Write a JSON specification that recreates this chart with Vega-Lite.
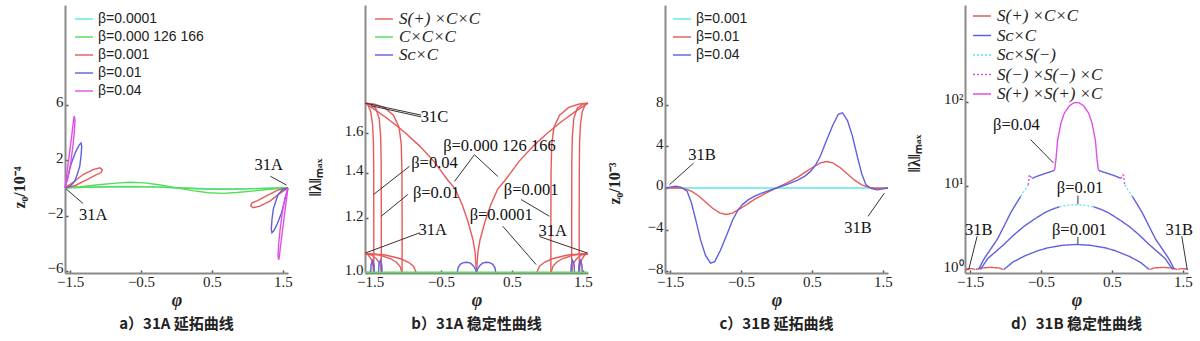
{
"$schema": "https://vega.github.io/schema/vega-lite/v6.json",
"background": "white",
"padding": {"left": 11, "top": 5, "right": 0, "bottom": 0},
"spacing": 77,
"bounds": "flush",
"resolve": {"scale": {"color": "independent", "strokeDash": "independent"}, "legend": {"color": "independent", "strokeDash": "independent"}},
"config": {
  "view": {"stroke": null},
  "axis": {"grid": false, "domainColor": "#8a8a8a", "domainWidth": 2, "ticks": true, "tickSize": -3, "tickColor": "#555", "tickWidth": 1.5,
    "labelFont": "Liberation Serif, Times New Roman, serif", "labelFontSize": 15, "labelColor": "#222", "labelOverlap": false, "labelFlush": false,
    "titleFont": "Liberation Serif, Times New Roman, serif", "titleColor": "#222", "titleFontWeight": "bold"},
  "axisX": {"labelPadding": 4, "titlePadding": 2, "titleFontSize": 18, "titleFontStyle": "italic"},
  "axisY": {"labelPadding": 5, "labelOffset": -3, "titleFontSize": 16, "titleBaseline": "middle"},
  "title": {"orient": "bottom", "anchor": "middle", "font": "Noto Sans CJK SC", "fontSize": 15, "fontWeight": "bold", "color": "#222", "offset": 8},
  "text": {"font": "Liberation Serif, Times New Roman, serif", "fontSize": 16.5, "color": "#111", "align": "center", "baseline": "middle"},
  "rule": {"color": "#333", "strokeWidth": 1},
  "line": {"strokeWidth": 1.4}
},
"datasets": {
"a": [
{"p":-1.5708,"v":0,"s":"β=0.0001","g":"c"},{"p":-1.2,"v":0.05,"s":"β=0.0001","g":"c"},{"p":-0.8,"v":0.1,"s":"β=0.0001","g":"c"},{"p":-0.4,"v":0.07,"s":"β=0.0001","g":"c"},{"p":0,"v":0,"s":"β=0.0001","g":"c"},{"p":0.4,"v":-0.07,"s":"β=0.0001","g":"c"},{"p":0.8,"v":-0.1,"s":"β=0.0001","g":"c"},{"p":1.2,"v":-0.05,"s":"β=0.0001","g":"c"},{"p":1.5708,"v":0,"s":"β=0.0001","g":"c"},
{"p":-1.5708,"v":0,"s":"β=0.000 126 166","g":"g1"},{"p":-1.35,"v":0.08,"s":"β=0.000 126 166","g":"g1"},{"p":-1.1,"v":0.22,"s":"β=0.000 126 166","g":"g1"},{"p":-0.85,"v":0.34,"s":"β=0.000 126 166","g":"g1"},{"p":-0.65,"v":0.4,"s":"β=0.000 126 166","g":"g1"},{"p":-0.45,"v":0.36,"s":"β=0.000 126 166","g":"g1"},{"p":-0.25,"v":0.22,"s":"β=0.000 126 166","g":"g1"},{"p":0,"v":0,"s":"β=0.000 126 166","g":"g1"},{"p":0.25,"v":-0.22,"s":"β=0.000 126 166","g":"g1"},{"p":0.45,"v":-0.36,"s":"β=0.000 126 166","g":"g1"},{"p":0.65,"v":-0.4,"s":"β=0.000 126 166","g":"g1"},{"p":0.85,"v":-0.34,"s":"β=0.000 126 166","g":"g1"},{"p":1.1,"v":-0.22,"s":"β=0.000 126 166","g":"g1"},{"p":1.35,"v":-0.08,"s":"β=0.000 126 166","g":"g1"},{"p":1.5708,"v":0,"s":"β=0.000 126 166","g":"g1"},
{"p":-1.5708,"v":0,"s":"β=0.000 126 166","g":"g2"},{"p":-1.1,"v":0.06,"s":"β=0.000 126 166","g":"g2"},{"p":-0.6,"v":0.1,"s":"β=0.000 126 166","g":"g2"},{"p":-0.3,"v":0.07,"s":"β=0.000 126 166","g":"g2"},{"p":0,"v":0,"s":"β=0.000 126 166","g":"g2"},{"p":0.3,"v":-0.07,"s":"β=0.000 126 166","g":"g2"},{"p":0.6,"v":-0.1,"s":"β=0.000 126 166","g":"g2"},{"p":1.1,"v":-0.06,"s":"β=0.000 126 166","g":"g2"},{"p":1.5708,"v":0,"s":"β=0.000 126 166","g":"g2"},
{"p":-1.5708,"v":0,"s":"β=0.001","g":"r1"},{"p":-1.45,"v":0.42,"s":"β=0.001","g":"r1"},{"p":-1.316,"v":0.96,"s":"β=0.001","g":"r1"},{"p":-1.175,"v":1.32,"s":"β=0.001","g":"r1"},{"p":-1.08,"v":1.44,"s":"β=0.001","g":"r1"},{"p":-1.045,"v":1.3,"s":"β=0.001","g":"r1"},{"p":-1.06,"v":1.1,"s":"β=0.001","g":"r1"},{"p":-1.142,"v":0.92,"s":"β=0.001","g":"r1"},{"p":-1.26,"v":0.6,"s":"β=0.001","g":"r1"},{"p":-1.425,"v":0.17,"s":"β=0.001","g":"r1"},{"p":-1.5708,"v":0,"s":"β=0.001","g":"r1"},
{"p":1.5708,"v":0,"s":"β=0.001","g":"r2"},{"p":1.45,"v":-0.42,"s":"β=0.001","g":"r2"},{"p":1.316,"v":-0.96,"s":"β=0.001","g":"r2"},{"p":1.175,"v":-1.32,"s":"β=0.001","g":"r2"},{"p":1.08,"v":-1.44,"s":"β=0.001","g":"r2"},{"p":1.045,"v":-1.3,"s":"β=0.001","g":"r2"},{"p":1.06,"v":-1.1,"s":"β=0.001","g":"r2"},{"p":1.142,"v":-0.92,"s":"β=0.001","g":"r2"},{"p":1.26,"v":-0.6,"s":"β=0.001","g":"r2"},{"p":1.425,"v":-0.17,"s":"β=0.001","g":"r2"},{"p":1.5708,"v":0,"s":"β=0.001","g":"r2"},
{"p":-1.5708,"v":0,"s":"β=0.01","g":"b1"},{"p":-1.53,"v":0.8,"s":"β=0.01","g":"b1"},{"p":-1.48,"v":1.8,"s":"β=0.01","g":"b1"},{"p":-1.42,"v":2.6,"s":"β=0.01","g":"b1"},{"p":-1.37,"v":3.1,"s":"β=0.01","g":"b1"},{"p":-1.345,"v":3.24,"s":"β=0.01","g":"b1"},{"p":-1.335,"v":3.0,"s":"β=0.01","g":"b1"},{"p":-1.345,"v":2.3,"s":"β=0.01","g":"b1"},{"p":-1.363,"v":1.55,"s":"β=0.01","g":"b1"},{"p":-1.4,"v":0.95,"s":"β=0.01","g":"b1"},{"p":-1.434,"v":0.47,"s":"β=0.01","g":"b1"},{"p":-1.5,"v":0.12,"s":"β=0.01","g":"b1"},{"p":-1.5708,"v":0,"s":"β=0.01","g":"b1"},
{"p":1.5708,"v":0,"s":"β=0.01","g":"b2"},{"p":1.53,"v":-0.8,"s":"β=0.01","g":"b2"},{"p":1.48,"v":-1.8,"s":"β=0.01","g":"b2"},{"p":1.42,"v":-2.6,"s":"β=0.01","g":"b2"},{"p":1.37,"v":-3.1,"s":"β=0.01","g":"b2"},{"p":1.345,"v":-3.24,"s":"β=0.01","g":"b2"},{"p":1.335,"v":-3.0,"s":"β=0.01","g":"b2"},{"p":1.345,"v":-2.3,"s":"β=0.01","g":"b2"},{"p":1.363,"v":-1.55,"s":"β=0.01","g":"b2"},{"p":1.4,"v":-0.95,"s":"β=0.01","g":"b2"},{"p":1.434,"v":-0.47,"s":"β=0.01","g":"b2"},{"p":1.5,"v":-0.12,"s":"β=0.01","g":"b2"},{"p":1.5708,"v":0,"s":"β=0.01","g":"b2"},
{"p":-1.5708,"v":0,"s":"β=0.04","g":"m1"},{"p":-1.54,"v":1.2,"s":"β=0.04","g":"m1"},{"p":-1.505,"v":2.6,"s":"β=0.04","g":"m1"},{"p":-1.47,"v":4.0,"s":"β=0.04","g":"m1"},{"p":-1.45,"v":4.9,"s":"β=0.04","g":"m1"},{"p":-1.44,"v":5.2,"s":"β=0.04","g":"m1"},{"p":-1.43,"v":4.9,"s":"β=0.04","g":"m1"},{"p":-1.44,"v":4.0,"s":"β=0.04","g":"m1"},{"p":-1.46,"v":3.0,"s":"β=0.04","g":"m1"},{"p":-1.49,"v":1.8,"s":"β=0.04","g":"m1"},{"p":-1.53,"v":0.7,"s":"β=0.04","g":"m1"},{"p":-1.5708,"v":0,"s":"β=0.04","g":"m1"},
{"p":1.5708,"v":0,"s":"β=0.04","g":"m2"},{"p":1.54,"v":-1.2,"s":"β=0.04","g":"m2"},{"p":1.505,"v":-2.6,"s":"β=0.04","g":"m2"},{"p":1.47,"v":-4.0,"s":"β=0.04","g":"m2"},{"p":1.45,"v":-4.9,"s":"β=0.04","g":"m2"},{"p":1.44,"v":-5.2,"s":"β=0.04","g":"m2"},{"p":1.43,"v":-4.9,"s":"β=0.04","g":"m2"},{"p":1.44,"v":-4.0,"s":"β=0.04","g":"m2"},{"p":1.46,"v":-3.0,"s":"β=0.04","g":"m2"},{"p":1.49,"v":-1.8,"s":"β=0.04","g":"m2"},{"p":1.53,"v":-0.7,"s":"β=0.04","g":"m2"},{"p":1.5708,"v":0,"s":"β=0.04","g":"m2"}
],
"ar": [{"p":-1.555,"v":-0.08,"p2":-1.316,"v2":-1.13},{"p":1.324,"v":0.83,"p2":1.55,"v2":0.2}],
"at": [{"p":-1.175,"v":-1.99,"t":"31A"},{"p":1.3,"v":1.63,"t":"31A"}],
"b": [
{"p":-1.5708,"v":1.77,"s":"S(+) ×C×C","g":"v1"},{"p":-1.4,"v":1.723,"s":"S(+) ×C×C","g":"v1"},{"p":-1.2,"v":1.664,"s":"S(+) ×C×C","g":"v1"},{"p":-1.0,"v":1.6,"s":"S(+) ×C×C","g":"v1"},{"p":-0.8,"v":1.531,"s":"S(+) ×C×C","g":"v1"},{"p":-0.6,"v":1.454,"s":"S(+) ×C×C","g":"v1"},{"p":-0.4,"v":1.363,"s":"S(+) ×C×C","g":"v1"},{"p":-0.3,"v":1.325,"s":"S(+) ×C×C","g":"v1"},{"p":-0.2,"v":1.255,"s":"S(+) ×C×C","g":"v1"},{"p":-0.12,"v":1.187,"s":"S(+) ×C×C","g":"v1"},{"p":-0.05,"v":1.116,"s":"S(+) ×C×C","g":"v1"},{"p":-0.02,"v":1.07,"s":"S(+) ×C×C","g":"v1"},{"p":0,"v":1.0,"s":"S(+) ×C×C","g":"v1"},
{"p":1.5708,"v":1.77,"s":"S(+) ×C×C","g":"v2"},{"p":1.4,"v":1.723,"s":"S(+) ×C×C","g":"v2"},{"p":1.2,"v":1.664,"s":"S(+) ×C×C","g":"v2"},{"p":1.0,"v":1.6,"s":"S(+) ×C×C","g":"v2"},{"p":0.8,"v":1.531,"s":"S(+) ×C×C","g":"v2"},{"p":0.6,"v":1.454,"s":"S(+) ×C×C","g":"v2"},{"p":0.4,"v":1.363,"s":"S(+) ×C×C","g":"v2"},{"p":0.3,"v":1.325,"s":"S(+) ×C×C","g":"v2"},{"p":0.2,"v":1.255,"s":"S(+) ×C×C","g":"v2"},{"p":0.12,"v":1.187,"s":"S(+) ×C×C","g":"v2"},{"p":0.05,"v":1.116,"s":"S(+) ×C×C","g":"v2"},{"p":0.02,"v":1.07,"s":"S(+) ×C×C","g":"v2"},{"p":0,"v":1.0,"s":"S(+) ×C×C","g":"v2"},
{"p":-1.5708,"v":1.77,"s":"S(+) ×C×C","g":"a1"},{"p":-1.53,"v":1.76,"s":"S(+) ×C×C","g":"a1"},{"p":-1.49,"v":1.72,"s":"S(+) ×C×C","g":"a1"},{"p":-1.465,"v":1.65,"s":"S(+) ×C×C","g":"a1"},{"p":-1.452,"v":1.55,"s":"S(+) ×C×C","g":"a1"},{"p":-1.448,"v":1.4,"s":"S(+) ×C×C","g":"a1"},{"p":-1.447,"v":1.2,"s":"S(+) ×C×C","g":"a1"},{"p":-1.447,"v":1.0,"s":"S(+) ×C×C","g":"a1"},
{"p":-1.5708,"v":1.77,"s":"S(+) ×C×C","g":"a2"},{"p":-1.5,"v":1.765,"s":"S(+) ×C×C","g":"a2"},{"p":-1.42,"v":1.74,"s":"S(+) ×C×C","g":"a2"},{"p":-1.37,"v":1.68,"s":"S(+) ×C×C","g":"a2"},{"p":-1.35,"v":1.58,"s":"S(+) ×C×C","g":"a2"},{"p":-1.343,"v":1.45,"s":"S(+) ×C×C","g":"a2"},{"p":-1.341,"v":1.2,"s":"S(+) ×C×C","g":"a2"},{"p":-1.341,"v":1.0,"s":"S(+) ×C×C","g":"a2"},
{"p":-1.5708,"v":1.77,"s":"S(+) ×C×C","g":"a3"},{"p":-1.45,"v":1.765,"s":"S(+) ×C×C","g":"a3"},{"p":-1.3,"v":1.745,"s":"S(+) ×C×C","g":"a3"},{"p":-1.17,"v":1.7,"s":"S(+) ×C×C","g":"a3"},{"p":-1.09,"v":1.63,"s":"S(+) ×C×C","g":"a3"},{"p":-1.06,"v":1.54,"s":"S(+) ×C×C","g":"a3"},{"p":-1.05,"v":1.4,"s":"S(+) ×C×C","g":"a3"},{"p":-1.048,"v":1.2,"s":"S(+) ×C×C","g":"a3"},{"p":-1.048,"v":1.0,"s":"S(+) ×C×C","g":"a3"},
{"p":1.5708,"v":1.77,"s":"S(+) ×C×C","g":"a4"},{"p":1.53,"v":1.76,"s":"S(+) ×C×C","g":"a4"},{"p":1.49,"v":1.72,"s":"S(+) ×C×C","g":"a4"},{"p":1.465,"v":1.65,"s":"S(+) ×C×C","g":"a4"},{"p":1.452,"v":1.55,"s":"S(+) ×C×C","g":"a4"},{"p":1.448,"v":1.4,"s":"S(+) ×C×C","g":"a4"},{"p":1.447,"v":1.2,"s":"S(+) ×C×C","g":"a4"},{"p":1.447,"v":1.0,"s":"S(+) ×C×C","g":"a4"},
{"p":1.5708,"v":1.77,"s":"S(+) ×C×C","g":"a5"},{"p":1.5,"v":1.765,"s":"S(+) ×C×C","g":"a5"},{"p":1.42,"v":1.74,"s":"S(+) ×C×C","g":"a5"},{"p":1.37,"v":1.68,"s":"S(+) ×C×C","g":"a5"},{"p":1.35,"v":1.58,"s":"S(+) ×C×C","g":"a5"},{"p":1.343,"v":1.45,"s":"S(+) ×C×C","g":"a5"},{"p":1.341,"v":1.2,"s":"S(+) ×C×C","g":"a5"},{"p":1.341,"v":1.0,"s":"S(+) ×C×C","g":"a5"},
{"p":1.5708,"v":1.77,"s":"S(+) ×C×C","g":"a6"},{"p":1.45,"v":1.765,"s":"S(+) ×C×C","g":"a6"},{"p":1.3,"v":1.745,"s":"S(+) ×C×C","g":"a6"},{"p":1.17,"v":1.7,"s":"S(+) ×C×C","g":"a6"},{"p":1.09,"v":1.63,"s":"S(+) ×C×C","g":"a6"},{"p":1.06,"v":1.54,"s":"S(+) ×C×C","g":"a6"},{"p":1.05,"v":1.4,"s":"S(+) ×C×C","g":"a6"},{"p":1.048,"v":1.2,"s":"S(+) ×C×C","g":"a6"},{"p":1.048,"v":1.0,"s":"S(+) ×C×C","g":"a6"},
{"p":-1.5708,"v":1.065,"s":"S(+) ×C×C","g":"b1"},{"p":-1.283,"v":1.0596,"s":"S(+) ×C×C","g":"b1"},{"p":-1.067,"v":1.0464,"s":"S(+) ×C×C","g":"b1"},{"p":-0.959,"v":1.0342,"s":"S(+) ×C×C","g":"b1"},{"p":-0.887,"v":1.0203,"s":"S(+) ×C×C","g":"b1"},{"p":-0.851,"v":1.0,"s":"S(+) ×C×C","g":"b1"},
{"p":-1.5708,"v":1.065,"s":"S(+) ×C×C","g":"b2"},{"p":-1.363,"v":1.0596,"s":"S(+) ×C×C","g":"b2"},{"p":-1.207,"v":1.0464,"s":"S(+) ×C×C","g":"b2"},{"p":-1.129,"v":1.0342,"s":"S(+) ×C×C","g":"b2"},{"p":-1.077,"v":1.0203,"s":"S(+) ×C×C","g":"b2"},{"p":-1.051,"v":1.0,"s":"S(+) ×C×C","g":"b2"},
{"p":-1.5708,"v":1.065,"s":"S(+) ×C×C","g":"b3"},{"p":-1.479,"v":1.0596,"s":"S(+) ×C×C","g":"b3"},{"p":-1.41,"v":1.0464,"s":"S(+) ×C×C","g":"b3"},{"p":-1.375,"v":1.0342,"s":"S(+) ×C×C","g":"b3"},{"p":-1.352,"v":1.0203,"s":"S(+) ×C×C","g":"b3"},{"p":-1.341,"v":1.0,"s":"S(+) ×C×C","g":"b3"},
{"p":-1.5708,"v":1.065,"s":"S(+) ×C×C","g":"b4"},{"p":-1.523,"v":1.0596,"s":"S(+) ×C×C","g":"b4"},{"p":-1.487,"v":1.0464,"s":"S(+) ×C×C","g":"b4"},{"p":-1.469,"v":1.0342,"s":"S(+) ×C×C","g":"b4"},{"p":-1.457,"v":1.0203,"s":"S(+) ×C×C","g":"b4"},{"p":-1.451,"v":1.0,"s":"S(+) ×C×C","g":"b4"},
{"p":1.5708,"v":1.065,"s":"S(+) ×C×C","g":"b5"},{"p":1.283,"v":1.0596,"s":"S(+) ×C×C","g":"b5"},{"p":1.067,"v":1.0464,"s":"S(+) ×C×C","g":"b5"},{"p":0.959,"v":1.0342,"s":"S(+) ×C×C","g":"b5"},{"p":0.887,"v":1.0203,"s":"S(+) ×C×C","g":"b5"},{"p":0.851,"v":1.0,"s":"S(+) ×C×C","g":"b5"},
{"p":1.5708,"v":1.065,"s":"S(+) ×C×C","g":"b6"},{"p":1.363,"v":1.0596,"s":"S(+) ×C×C","g":"b6"},{"p":1.207,"v":1.0464,"s":"S(+) ×C×C","g":"b6"},{"p":1.129,"v":1.0342,"s":"S(+) ×C×C","g":"b6"},{"p":1.077,"v":1.0203,"s":"S(+) ×C×C","g":"b6"},{"p":1.051,"v":1.0,"s":"S(+) ×C×C","g":"b6"},
{"p":1.5708,"v":1.065,"s":"S(+) ×C×C","g":"b7"},{"p":1.479,"v":1.0596,"s":"S(+) ×C×C","g":"b7"},{"p":1.41,"v":1.0464,"s":"S(+) ×C×C","g":"b7"},{"p":1.375,"v":1.0342,"s":"S(+) ×C×C","g":"b7"},{"p":1.352,"v":1.0203,"s":"S(+) ×C×C","g":"b7"},{"p":1.341,"v":1.0,"s":"S(+) ×C×C","g":"b7"},
{"p":1.5708,"v":1.065,"s":"S(+) ×C×C","g":"b8"},{"p":1.523,"v":1.0596,"s":"S(+) ×C×C","g":"b8"},{"p":1.487,"v":1.0464,"s":"S(+) ×C×C","g":"b8"},{"p":1.469,"v":1.0342,"s":"S(+) ×C×C","g":"b8"},{"p":1.457,"v":1.0203,"s":"S(+) ×C×C","g":"b8"},{"p":1.451,"v":1.0,"s":"S(+) ×C×C","g":"b8"},
{"p":-0.27,"v":1.0,"s":"Sᴄ×C","g":"c1"},{"p":-0.26,"v":1.015,"s":"Sᴄ×C","g":"c1"},{"p":-0.23,"v":1.027,"s":"Sᴄ×C","g":"c1"},{"p":-0.185,"v":1.033,"s":"Sᴄ×C","g":"c1"},{"p":-0.135,"v":1.034,"s":"Sᴄ×C","g":"c1"},{"p":-0.085,"v":1.031,"s":"Sᴄ×C","g":"c1"},{"p":-0.045,"v":1.022,"s":"Sᴄ×C","g":"c1"},{"p":-0.015,"v":1.01,"s":"Sᴄ×C","g":"c1"},{"p":0,"v":1.0,"s":"Sᴄ×C","g":"c1"},
{"p":0.27,"v":1.0,"s":"Sᴄ×C","g":"c2"},{"p":0.26,"v":1.015,"s":"Sᴄ×C","g":"c2"},{"p":0.23,"v":1.027,"s":"Sᴄ×C","g":"c2"},{"p":0.185,"v":1.033,"s":"Sᴄ×C","g":"c2"},{"p":0.135,"v":1.034,"s":"Sᴄ×C","g":"c2"},{"p":0.085,"v":1.031,"s":"Sᴄ×C","g":"c2"},{"p":0.045,"v":1.022,"s":"Sᴄ×C","g":"c2"},{"p":0.015,"v":1.01,"s":"Sᴄ×C","g":"c2"},{"p":0,"v":1.0,"s":"Sᴄ×C","g":"c2"},
{"p":-1.49,"v":1.0,"s":"Sᴄ×C","g":"c3"},{"p":-1.485,"v":1.025,"s":"Sᴄ×C","g":"c3"},{"p":-1.465,"v":1.04,"s":"Sᴄ×C","g":"c3"},{"p":-1.445,"v":1.025,"s":"Sᴄ×C","g":"c3"},{"p":-1.44,"v":1.0,"s":"Sᴄ×C","g":"c3"},
{"p":-1.38,"v":1.0,"s":"Sᴄ×C","g":"c4"},{"p":-1.375,"v":1.025,"s":"Sᴄ×C","g":"c4"},{"p":-1.355,"v":1.04,"s":"Sᴄ×C","g":"c4"},{"p":-1.335,"v":1.025,"s":"Sᴄ×C","g":"c4"},{"p":-1.33,"v":1.0,"s":"Sᴄ×C","g":"c4"},
{"p":1.49,"v":1.0,"s":"Sᴄ×C","g":"c5"},{"p":1.485,"v":1.025,"s":"Sᴄ×C","g":"c5"},{"p":1.465,"v":1.04,"s":"Sᴄ×C","g":"c5"},{"p":1.445,"v":1.025,"s":"Sᴄ×C","g":"c5"},{"p":1.44,"v":1.0,"s":"Sᴄ×C","g":"c5"},
{"p":1.38,"v":1.0,"s":"Sᴄ×C","g":"c6"},{"p":1.375,"v":1.025,"s":"Sᴄ×C","g":"c6"},{"p":1.355,"v":1.04,"s":"Sᴄ×C","g":"c6"},{"p":1.335,"v":1.025,"s":"Sᴄ×C","g":"c6"},{"p":1.33,"v":1.0,"s":"Sᴄ×C","g":"c6"},
{"p":-1.5708,"v":1.0,"s":"C×C×C","g":"gr"},{"p":1.5708,"v":1.0,"s":"C×C×C","g":"gr"}
],
"br": [
{"p":-0.78,"v":1.70,"p2":-1.565,"v2":1.77},{"p":-0.78,"v":1.69,"p2":-1.49,"v2":1.755},
{"p":-0.029,"v":1.487,"p2":-0.31,"v2":1.359},{"p":-0.029,"v":1.487,"p2":0.3,"v2":1.382},
{"p":-0.944,"v":1.43,"p2":-1.451,"v2":1.3},{"p":-0.968,"v":1.3,"p2":-1.343,"v2":1.208},
{"p":0.629,"v":1.278,"p2":1.028,"v2":1.208},{"p":0.37,"v":1.168,"p2":0.84,"v2":1.026},
{"p":-0.803,"v":1.142,"p2":-1.564,"v2":1.067},{"p":0.887,"v":1.128,"p2":1.56,"v2":1.067}
],
"bt": [
{"p":-0.592,"v":1.692,"t":"31C"},{"p":0.323,"v":1.529,"t":"β=0.000 126 166"},{"p":-0.592,"v":1.446,"t":"β=0.04"},{"p":-0.568,"v":1.307,"t":"β=0.01"},{"p":0.77,"v":1.322,"t":"β=0.001"},{"p":0.348,"v":1.215,"t":"β=0.0001"},{"p":-0.616,"v":1.155,"t":"31A"},{"p":1.074,"v":1.148,"t":"31A"}
],
"c": [
{"p":-1.5708,"v":0,"s":"β=0.001","g":"c"},{"p":0,"v":0,"s":"β=0.001","g":"c"},{"p":1.5708,"v":0,"s":"β=0.001","g":"c"},
{"p":-1.5708,"v":0,"s":"β=0.01","g":"r"},{"p":-1.4,"v":0.02,"s":"β=0.01","g":"r"},{"p":-1.3,"v":-0.06,"s":"β=0.01","g":"r"},{"p":-1.2,"v":-0.3,"s":"β=0.01","g":"r"},{"p":-1.1,"v":-0.75,"s":"β=0.01","g":"r"},{"p":-1.0,"v":-1.35,"s":"β=0.01","g":"r"},{"p":-0.9,"v":-1.95,"s":"β=0.01","g":"r"},{"p":-0.8,"v":-2.4,"s":"β=0.01","g":"r"},{"p":-0.71,"v":-2.55,"s":"β=0.01","g":"r"},{"p":-0.62,"v":-2.42,"s":"β=0.01","g":"r"},{"p":-0.5,"v":-1.95,"s":"β=0.01","g":"r"},{"p":-0.4,"v":-1.5,"s":"β=0.01","g":"r"},{"p":-0.3,"v":-1.05,"s":"β=0.01","g":"r"},{"p":-0.15,"v":-0.5,"s":"β=0.01","g":"r"},{"p":0,"v":0,"s":"β=0.01","g":"r"},{"p":0.15,"v":0.5,"s":"β=0.01","g":"r"},{"p":0.3,"v":1.05,"s":"β=0.01","g":"r"},{"p":0.4,"v":1.5,"s":"β=0.01","g":"r"},{"p":0.5,"v":1.95,"s":"β=0.01","g":"r"},{"p":0.62,"v":2.42,"s":"β=0.01","g":"r"},{"p":0.71,"v":2.55,"s":"β=0.01","g":"r"},{"p":0.8,"v":2.4,"s":"β=0.01","g":"r"},{"p":0.9,"v":1.95,"s":"β=0.01","g":"r"},{"p":1.0,"v":1.35,"s":"β=0.01","g":"r"},{"p":1.1,"v":0.75,"s":"β=0.01","g":"r"},{"p":1.2,"v":0.3,"s":"β=0.01","g":"r"},{"p":1.3,"v":0.06,"s":"β=0.01","g":"r"},{"p":1.4,"v":-0.02,"s":"β=0.01","g":"r"},{"p":1.5708,"v":0,"s":"β=0.01","g":"r"},
{"p":-1.5708,"v":0,"s":"β=0.04","g":"b"},{"p":-1.5,"v":0.08,"s":"β=0.04","g":"b"},{"p":-1.42,"v":0.18,"s":"β=0.04","g":"b"},{"p":-1.34,"v":0.05,"s":"β=0.04","g":"b"},{"p":-1.26,"v":-0.3,"s":"β=0.04","g":"b"},{"p":-1.2,"v":-1.4,"s":"β=0.04","g":"b"},{"p":-1.14,"v":-3.0,"s":"β=0.04","g":"b"},{"p":-1.07,"v":-5.0,"s":"β=0.04","g":"b"},{"p":-1.0,"v":-6.5,"s":"β=0.04","g":"b"},{"p":-0.93,"v":-7.25,"s":"β=0.04","g":"b"},{"p":-0.87,"v":-7.1,"s":"β=0.04","g":"b"},{"p":-0.79,"v":-6.0,"s":"β=0.04","g":"b"},{"p":-0.7,"v":-4.5,"s":"β=0.04","g":"b"},{"p":-0.62,"v":-3.1,"s":"β=0.04","g":"b"},{"p":-0.55,"v":-2.2,"s":"β=0.04","g":"b"},{"p":-0.48,"v":-1.6,"s":"β=0.04","g":"b"},{"p":-0.4,"v":-1.15,"s":"β=0.04","g":"b"},{"p":-0.3,"v":-0.75,"s":"β=0.04","g":"b"},{"p":-0.15,"v":-0.35,"s":"β=0.04","g":"b"},{"p":0,"v":0,"s":"β=0.04","g":"b"},{"p":0.15,"v":0.35,"s":"β=0.04","g":"b"},{"p":0.3,"v":0.75,"s":"β=0.04","g":"b"},{"p":0.4,"v":1.15,"s":"β=0.04","g":"b"},{"p":0.48,"v":1.6,"s":"β=0.04","g":"b"},{"p":0.55,"v":2.2,"s":"β=0.04","g":"b"},{"p":0.62,"v":3.1,"s":"β=0.04","g":"b"},{"p":0.7,"v":4.5,"s":"β=0.04","g":"b"},{"p":0.79,"v":6.0,"s":"β=0.04","g":"b"},{"p":0.87,"v":7.1,"s":"β=0.04","g":"b"},{"p":0.93,"v":7.25,"s":"β=0.04","g":"b"},{"p":1.0,"v":6.5,"s":"β=0.04","g":"b"},{"p":1.07,"v":5.0,"s":"β=0.04","g":"b"},{"p":1.14,"v":3.0,"s":"β=0.04","g":"b"},{"p":1.2,"v":1.4,"s":"β=0.04","g":"b"},{"p":1.26,"v":0.3,"s":"β=0.04","g":"b"},{"p":1.34,"v":-0.05,"s":"β=0.04","g":"b"},{"p":1.42,"v":-0.18,"s":"β=0.04","g":"b"},{"p":1.5,"v":-0.08,"s":"β=0.04","g":"b"},{"p":1.5708,"v":0,"s":"β=0.04","g":"b"}
],
"cr": [{"p":-1.167,"v":2.4,"p2":-1.508,"v2":0.32},{"p":1.29,"v":-2.73,"p2":1.521,"v2":-0.48}],
"ct": [{"p":-1.049,"v":3.2,"t":"31B"},{"p":1.147,"v":-3.85,"t":"31B"}],
"d": [
{"p":-1.5708,"v":1.0,"s":"S(+) ×C×C","g":"r1"},{"p":-1.53,"v":1.02,"s":"S(+) ×C×C","g":"r1"},{"p":-1.47,"v":1.025,"s":"S(+) ×C×C","g":"r1"},{"p":-1.43,"v":1.0,"s":"S(+) ×C×C","g":"r1"},
{"p":-1.42,"v":1.0,"s":"S(+) ×C×C","g":"r2"},{"p":-1.35,"v":1.04,"s":"S(+) ×C×C","g":"r2"},{"p":-1.22,"v":1.06,"s":"S(+) ×C×C","g":"r2"},{"p":-1.1,"v":1.045,"s":"S(+) ×C×C","g":"r2"},{"p":-1.03,"v":1.0,"s":"S(+) ×C×C","g":"r2"},
{"p":1.5708,"v":1.0,"s":"S(+) ×C×C","g":"r3"},{"p":1.53,"v":1.02,"s":"S(+) ×C×C","g":"r3"},{"p":1.47,"v":1.025,"s":"S(+) ×C×C","g":"r3"},{"p":1.43,"v":1.0,"s":"S(+) ×C×C","g":"r3"},
{"p":1.42,"v":1.0,"s":"S(+) ×C×C","g":"r4"},{"p":1.35,"v":1.04,"s":"S(+) ×C×C","g":"r4"},{"p":1.22,"v":1.06,"s":"S(+) ×C×C","g":"r4"},{"p":1.1,"v":1.045,"s":"S(+) ×C×C","g":"r4"},{"p":1.03,"v":1.0,"s":"S(+) ×C×C","g":"r4"},
{"p":-1.38,"v":1.0,"s":"Sᴄ×C","g":"d1"},{"p":-1.3,"v":1.35,"s":"Sᴄ×C","g":"d1"},{"p":-1.2,"v":1.8,"s":"Sᴄ×C","g":"d1"},{"p":-1.117,"v":2.28,"s":"Sᴄ×C","g":"d1"},{"p":-1.02,"v":3.3,"s":"Sᴄ×C","g":"d1"},{"p":-0.928,"v":4.73,"s":"Sᴄ×C","g":"d1"},{"p":-0.85,"v":6.1,"s":"Sᴄ×C","g":"d1"},{"p":-0.786,"v":7.46,"s":"Sᴄ×C","g":"d1"},
{"p":-0.786,"v":7.46,"s":"Sᴄ×S(−)","g":"d2"},{"p":-0.75,"v":8.3,"s":"Sᴄ×S(−)","g":"d2"},{"p":-0.71,"v":9.3,"s":"Sᴄ×S(−)","g":"d2"},{"p":-0.68,"v":10.2,"s":"Sᴄ×S(−)","g":"d2"},
{"p":-0.68,"v":10.2,"s":"S(−) ×S(−) ×C","g":"d3"},{"p":-0.672,"v":11.5,"s":"S(−) ×S(−) ×C","g":"d3"},{"p":-0.665,"v":13.2,"s":"S(−) ×S(−) ×C","g":"d3"},{"p":-0.655,"v":13.5,"s":"S(−) ×S(−) ×C","g":"d3"},{"p":-0.64,"v":12.6,"s":"S(−) ×S(−) ×C","g":"d3"},{"p":-0.625,"v":12.2,"s":"S(−) ×S(−) ×C","g":"d3"},
{"p":-0.625,"v":12.2,"s":"Sᴄ×C","g":"d4"},{"p":-0.55,"v":13.0,"s":"Sᴄ×C","g":"d4"},{"p":-0.45,"v":13.9,"s":"Sᴄ×C","g":"d4"},{"p":-0.35,"v":14.8,"s":"Sᴄ×C","g":"d4"},{"p":-0.313,"v":15.2,"s":"Sᴄ×C","g":"d4"},
{"p":-0.313,"v":15.2,"s":"S(+) ×S(+) ×C","g":"d5"},{"p":-0.304,"v":16.2,"s":"S(+) ×S(+) ×C","g":"d5"},{"p":-0.29,"v":20.4,"s":"S(+) ×S(+) ×C","g":"d5"},{"p":-0.266,"v":35,"s":"S(+) ×S(+) ×C","g":"d5"},{"p":-0.219,"v":55.7,"s":"S(+) ×S(+) ×C","g":"d5"},{"p":-0.172,"v":73,"s":"S(+) ×S(+) ×C","g":"d5"},{"p":-0.101,"v":89.6,"s":"S(+) ×S(+) ×C","g":"d5"},{"p":-0.04,"v":97,"s":"S(+) ×S(+) ×C","g":"d5"},{"p":0,"v":98,"s":"S(+) ×S(+) ×C","g":"d5"},{"p":0.04,"v":97,"s":"S(+) ×S(+) ×C","g":"d5"},{"p":0.101,"v":89.6,"s":"S(+) ×S(+) ×C","g":"d5"},{"p":0.172,"v":73,"s":"S(+) ×S(+) ×C","g":"d5"},{"p":0.219,"v":55.7,"s":"S(+) ×S(+) ×C","g":"d5"},{"p":0.266,"v":35,"s":"S(+) ×S(+) ×C","g":"d5"},{"p":0.29,"v":20.4,"s":"S(+) ×S(+) ×C","g":"d5"},{"p":0.304,"v":16.2,"s":"S(+) ×S(+) ×C","g":"d5"},{"p":0.313,"v":15.2,"s":"S(+) ×S(+) ×C","g":"d5"},
{"p":0.313,"v":15.2,"s":"Sᴄ×C","g":"d6"},{"p":0.35,"v":14.8,"s":"Sᴄ×C","g":"d6"},{"p":0.45,"v":13.9,"s":"Sᴄ×C","g":"d6"},{"p":0.55,"v":13.0,"s":"Sᴄ×C","g":"d6"},{"p":0.625,"v":12.2,"s":"Sᴄ×C","g":"d6"},
{"p":0.625,"v":12.2,"s":"S(−) ×S(−) ×C","g":"d7"},{"p":0.64,"v":12.6,"s":"S(−) ×S(−) ×C","g":"d7"},{"p":0.655,"v":13.5,"s":"S(−) ×S(−) ×C","g":"d7"},{"p":0.665,"v":13.2,"s":"S(−) ×S(−) ×C","g":"d7"},{"p":0.672,"v":11.5,"s":"S(−) ×S(−) ×C","g":"d7"},{"p":0.68,"v":10.2,"s":"S(−) ×S(−) ×C","g":"d7"},
{"p":0.68,"v":10.2,"s":"Sᴄ×S(−)","g":"d8"},{"p":0.71,"v":9.3,"s":"Sᴄ×S(−)","g":"d8"},{"p":0.75,"v":8.3,"s":"Sᴄ×S(−)","g":"d8"},{"p":0.786,"v":7.46,"s":"Sᴄ×S(−)","g":"d8"},
{"p":0.786,"v":7.46,"s":"Sᴄ×C","g":"d9"},{"p":0.85,"v":6.1,"s":"Sᴄ×C","g":"d9"},{"p":0.928,"v":4.73,"s":"Sᴄ×C","g":"d9"},{"p":1.02,"v":3.3,"s":"Sᴄ×C","g":"d9"},{"p":1.117,"v":2.28,"s":"Sᴄ×C","g":"d9"},{"p":1.2,"v":1.8,"s":"Sᴄ×C","g":"d9"},{"p":1.3,"v":1.35,"s":"Sᴄ×C","g":"d9"},{"p":1.38,"v":1.0,"s":"Sᴄ×C","g":"d9"},
{"p":-1.354,"v":1.0,"s":"Sᴄ×C","g":"e1"},{"p":-1.25,"v":1.35,"s":"Sᴄ×C","g":"e1"},{"p":-1.15,"v":1.6,"s":"Sᴄ×C","g":"e1"},{"p":-1.022,"v":1.99,"s":"Sᴄ×C","g":"e1"},{"p":-0.88,"v":2.6,"s":"Sᴄ×C","g":"e1"},{"p":-0.738,"v":3.28,"s":"Sᴄ×C","g":"e1"},{"p":-0.6,"v":3.95,"s":"Sᴄ×C","g":"e1"},{"p":-0.454,"v":4.73,"s":"Sᴄ×C","g":"e1"},{"p":-0.35,"v":5.2,"s":"Sᴄ×C","g":"e1"},{"p":-0.24,"v":5.6,"s":"Sᴄ×C","g":"e1"},
{"p":-0.24,"v":5.6,"s":"Sᴄ×S(−)","g":"e2"},{"p":-0.12,"v":5.85,"s":"Sᴄ×S(−)","g":"e2"},{"p":0,"v":5.92,"s":"Sᴄ×S(−)","g":"e2"},{"p":0.12,"v":5.85,"s":"Sᴄ×S(−)","g":"e2"},{"p":0.24,"v":5.6,"s":"Sᴄ×S(−)","g":"e2"},
{"p":0.24,"v":5.6,"s":"Sᴄ×C","g":"e3"},{"p":0.35,"v":5.2,"s":"Sᴄ×C","g":"e3"},{"p":0.454,"v":4.73,"s":"Sᴄ×C","g":"e3"},{"p":0.6,"v":3.95,"s":"Sᴄ×C","g":"e3"},{"p":0.738,"v":3.28,"s":"Sᴄ×C","g":"e3"},{"p":0.88,"v":2.6,"s":"Sᴄ×C","g":"e3"},{"p":1.022,"v":1.99,"s":"Sᴄ×C","g":"e3"},{"p":1.15,"v":1.6,"s":"Sᴄ×C","g":"e3"},{"p":1.25,"v":1.35,"s":"Sᴄ×C","g":"e3"},{"p":1.354,"v":1.0,"s":"Sᴄ×C","g":"e3"},
{"p":-1.022,"v":1.0,"s":"Sᴄ×C","g":"f1"},{"p":-0.9,"v":1.22,"s":"Sᴄ×C","g":"f1"},{"p":-0.738,"v":1.44,"s":"Sᴄ×C","g":"f1"},{"p":-0.55,"v":1.67,"s":"Sᴄ×C","g":"f1"},{"p":-0.408,"v":1.81,"s":"Sᴄ×C","g":"f1"},{"p":-0.2,"v":1.94,"s":"Sᴄ×C","g":"f1"},{"p":0,"v":1.99,"s":"Sᴄ×C","g":"f1"},{"p":0.2,"v":1.94,"s":"Sᴄ×C","g":"f1"},{"p":0.408,"v":1.81,"s":"Sᴄ×C","g":"f1"},{"p":0.55,"v":1.67,"s":"Sᴄ×C","g":"f1"},{"p":0.738,"v":1.44,"s":"Sᴄ×C","g":"f1"},{"p":0.9,"v":1.22,"s":"Sᴄ×C","g":"f1"},{"p":1.022,"v":1.0,"s":"Sᴄ×C","g":"f1"}
],
"dr": [
{"p":-0.645,"v":35.3,"p2":-0.323,"v2":18.6},{"p":0.02,"v":7.6,"p2":0.02,"v2":6.0},{"p":0.02,"v":2.45,"p2":0.02,"v2":2.02},{"p":-1.4,"v":2.49,"p2":-1.518,"v2":1.0},{"p":1.483,"v":2.49,"p2":1.56,"v2":1.0}
],
"dt": [
{"p":-0.847,"v":52.2,"t":"β=0.04"},{"p":0.05,"v":9.4,"t":"β=0.01"},{"p":0.04,"v":2.99,"t":"β=0.001"},{"p":-1.376,"v":2.99,"t":"31B"},{"p":1.446,"v":2.99,"t":"31B"}
]
},
"hconcat": [
{
 "width": 223, "height": 268,
 "title": {"text": "a）31A 延拓曲线"},
 "layer": [
  {"data": {"name": "a"}, "mark": {"type": "line"},
   "encoding": {
    "x": {"field": "p", "type": "quantitative", "scale": {"domain": [-1.5708, 1.5708], "nice": false, "zero": false}, "axis": {"values": [-1.5, -0.5, 0.5, 1.5], "format": ".1f", "title": "φ"}},
    "y": {"field": "v", "type": "quantitative", "scale": {"domain": [-6.15, 13.2], "nice": false, "zero": false}, "axis": {"values": [-6, -2, 2, 6], "title": "z₀/10⁻⁴", "titleX": -46, "titleY": 182}},
    "color": {"field": "s", "type": "nominal", "scale": {"domain": ["β=0.0001", "β=0.000 126 166", "β=0.001", "β=0.01", "β=0.04"], "range": ["#5ee6e6", "#55dd55", "#e65a5a", "#5f5fe0", "#e050e6"]},
      "legend": {"orient": "none", "legendX": 9, "legendY": 4, "title": null, "symbolType": "stroke", "symbolSize": 324, "symbolStrokeWidth": 2, "labelFont": "Liberation Sans, Arial, sans-serif", "labelFontSize": 14, "labelColor": "#222", "rowPadding": 1, "labelOffset": 4, "padding": 0}},
    "detail": {"field": "g"},
    "order": {"value": null}
   }},
  {"data": {"name": "ar"}, "mark": {"type": "rule"},
   "encoding": {"x": {"field": "p", "type": "quantitative"}, "y": {"field": "v", "type": "quantitative"}, "x2": {"field": "p2"}, "y2": {"field": "v2"}}},
  {"data": {"name": "at"}, "mark": {"type": "text"},
   "encoding": {"x": {"field": "p", "type": "quantitative"}, "y": {"field": "v", "type": "quantitative"}, "text": {"field": "t"}}}
 ]
},
{
 "width": 223, "height": 268,
 "title": {"text": "b）31A 稳定性曲线"},
 "layer": [
  {"data": {"name": "b"}, "mark": {"type": "line"},
   "encoding": {
    "x": {"field": "p", "type": "quantitative", "scale": {"domain": [-1.5708, 1.5708], "nice": false, "zero": false}, "axis": {"values": [-1.5, -0.5, 0.5, 1.5], "format": ".1f", "title": "φ"}},
    "y": {"field": "v", "type": "quantitative", "scale": {"type": "log", "domain": [0.9973, 2.466], "nice": false}, "axis": {"values": [1, 1.2, 1.4, 1.6], "format": ".1f", "title": "‖λ‖ₘₐₓ", "titleX": -50, "titleY": 172}},
    "color": {"field": "s", "type": "nominal", "scale": {"domain": ["S(+) ×C×C", "C×C×C", "Sᴄ×C"], "range": ["#e65a5a", "#55dd55", "#5f5fe0"]},
      "legend": {"orient": "none", "legendX": 9, "legendY": 4, "title": null, "symbolType": "stroke", "symbolSize": 324, "symbolStrokeWidth": 2, "labelFont": "Liberation Serif, Times New Roman, serif", "labelFontStyle": "italic", "labelFontSize": 17, "labelColor": "#222", "rowPadding": 0, "labelOffset": 5, "padding": 0}},
    "detail": {"field": "g"},
    "order": {"value": null}
   }},
  {"data": {"name": "br"}, "mark": {"type": "rule"},
   "encoding": {"x": {"field": "p", "type": "quantitative"}, "y": {"field": "v", "type": "quantitative"}, "x2": {"field": "p2"}, "y2": {"field": "v2"}}},
  {"data": {"name": "bt"}, "mark": {"type": "text"},
   "encoding": {"x": {"field": "p", "type": "quantitative"}, "y": {"field": "v", "type": "quantitative"}, "text": {"field": "t"}}}
 ]
},
{
 "width": 223, "height": 268,
 "title": {"text": "c）31B 延拓曲线"},
 "layer": [
  {"data": {"name": "c"}, "mark": {"type": "line"},
   "encoding": {
    "x": {"field": "p", "type": "quantitative", "scale": {"domain": [-1.5708, 1.5708], "nice": false, "zero": false}, "axis": {"values": [-1.5, -0.5, 0.5, 1.5], "format": ".1f", "title": "φ"}},
    "y": {"field": "v", "type": "quantitative", "scale": {"domain": [-8.19, 17.63], "nice": false, "zero": false}, "axis": {"values": [-8, -4, 0, 4, 8], "title": "z₀/10⁻³", "titleX": -51, "titleY": 178}},
    "color": {"field": "s", "type": "nominal", "scale": {"domain": ["β=0.001", "β=0.01", "β=0.04"], "range": ["#5ee6e6", "#e65a5a", "#5f5fe0"]},
      "legend": {"orient": "none", "legendX": 7, "legendY": 4, "title": null, "symbolType": "stroke", "symbolSize": 324, "symbolStrokeWidth": 2, "labelFont": "Liberation Sans, Arial, sans-serif", "labelFontSize": 14, "labelColor": "#222", "rowPadding": 1, "labelOffset": 4, "padding": 0}},
    "detail": {"field": "g"},
    "order": {"value": null}
   }},
  {"data": {"name": "cr"}, "mark": {"type": "rule"},
   "encoding": {"x": {"field": "p", "type": "quantitative"}, "y": {"field": "v", "type": "quantitative"}, "x2": {"field": "p2"}, "y2": {"field": "v2"}}},
  {"data": {"name": "ct"}, "mark": {"type": "text"},
   "encoding": {"x": {"field": "p", "type": "quantitative"}, "y": {"field": "v", "type": "quantitative"}, "text": {"field": "t"}}}
 ]
},
{
 "width": 223, "height": 268,
 "title": {"text": "d）31B 稳定性曲线"},
 "layer": [
  {"data": {"name": "d"}, "mark": {"type": "line"},
   "encoding": {
    "x": {"field": "p", "type": "quantitative", "scale": {"domain": [-1.5708, 1.5708], "nice": false, "zero": false}, "axis": {"values": [-1.5, -0.5, 0.5, 1.5], "format": ".1f", "title": "φ"}},
    "y": {"field": "v", "type": "quantitative", "scale": {"type": "log", "domain": [0.908, 1429], "nice": false}, "axis": {"values": [1, 10, 100], "labelExpr": "datum.value < 5 ? '10⁰' : datum.value < 50 ? '10¹' : '10²'", "title": "‖λ‖ₘₐₓ", "titleX": -51, "titleY": 148}},
    "color": {"field": "s", "type": "nominal", "scale": {"domain": ["S(+) ×C×C", "Sᴄ×C", "Sᴄ×S(−)", "S(−) ×S(−) ×C", "S(+) ×S(+) ×C"], "range": ["#e65a5a", "#5f5fe0", "#5ee6e6", "#e050e6", "#e050e6"]},
      "legend": {"orient": "none", "legendX": 7, "legendY": 1, "title": null, "symbolType": "stroke", "symbolSize": 324, "symbolStrokeWidth": 2, "labelFont": "Liberation Serif, Times New Roman, serif", "labelFontStyle": "italic", "labelFontSize": 17, "labelColor": "#222", "rowPadding": 1.5, "labelOffset": 5, "padding": 0}},
    "strokeDash": {"field": "s", "type": "nominal", "scale": {"domain": ["S(+) ×C×C", "Sᴄ×C", "Sᴄ×S(−)", "S(−) ×S(−) ×C", "S(+) ×S(+) ×C"], "range": [[1, 0], [1, 0], [2, 2], [2, 2], [1, 0]]},
      "legend": {"orient": "none", "legendX": 7, "legendY": 1, "title": null, "symbolType": "stroke", "symbolSize": 324, "symbolStrokeWidth": 2, "labelFont": "Liberation Serif, Times New Roman, serif", "labelFontStyle": "italic", "labelFontSize": 17, "labelColor": "#222", "rowPadding": 1.5, "labelOffset": 5, "padding": 0}},
    "detail": {"field": "g"},
    "order": {"value": null}
   }},
  {"data": {"name": "dr"}, "mark": {"type": "rule"},
   "encoding": {"x": {"field": "p", "type": "quantitative"}, "y": {"field": "v", "type": "quantitative"}, "x2": {"field": "p2"}, "y2": {"field": "v2"}}},
  {"data": {"name": "dt"}, "mark": {"type": "text"},
   "encoding": {"x": {"field": "p", "type": "quantitative"}, "y": {"field": "v", "type": "quantitative"}, "text": {"field": "t"}}}
 ]
}
]
}
